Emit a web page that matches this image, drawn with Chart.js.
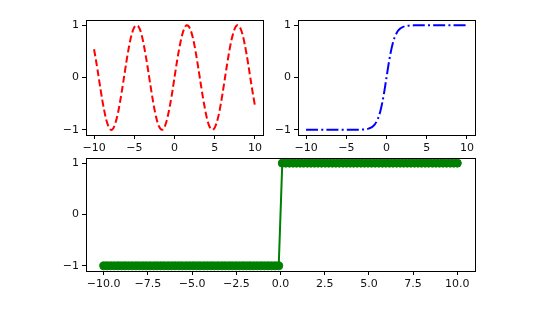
<!DOCTYPE html>
<html>
<head>
<meta charset="utf-8">
<script src="https://cdn.jsdelivr.net/npm/chart.js@4/dist/chart.umd.min.js"></script>
<style>
  html, body { margin: 0; padding: 0; background: #fff; }
  #fig { position: relative; width: 560px; height: 309px; overflow: hidden; }
  #fig canvas { position: absolute; }
</style>
</head>
<body>
<div id="fig">
  <canvas id="sinCanvas" width="280" height="160" style="left:0;top:0"></canvas>
  <canvas id="tanhCanvas" width="310" height="160" style="left:250px;top:0"></canvas>
  <canvas id="signCanvas" width="560" height="169" style="left:0;top:140px"></canvas>
</div>
<script>
// x positions for the top two panels (step 0.25)
const curveX = [
  -10, -9.75, -9.5, -9.25, -9, -8.75, -8.5, -8.25, -8, -7.75, -7.5, -7.25, -7, -6.75, -6.5, -6.25,
  -6, -5.75, -5.5, -5.25, -5, -4.75, -4.5, -4.25, -4, -3.75, -3.5, -3.25, -3, -2.75, -2.5, -2.25,
  -2, -1.75, -1.5, -1.25, -1, -0.75, -0.5, -0.25, 0, 0.25, 0.5, 0.75, 1, 1.25, 1.5, 1.75,
  2, 2.25, 2.5, 2.75, 3, 3.25, 3.5, 3.75, 4, 4.25, 4.5, 4.75, 5, 5.25, 5.5, 5.75,
  6, 6.25, 6.5, 6.75, 7, 7.25, 7.5, 7.75, 8, 8.25, 8.5, 8.75, 9, 9.25, 9.5, 9.75, 10
];
const sinY = [
  0.54, 0.32, 0.08, -0.17, -0.41, -0.62, -0.80, -0.92, -0.99, -1.00, -0.94, -0.82, -0.66, -0.45, -0.22, 0.03,
  0.28, 0.51, 0.71, 0.86, 0.96, 1.00, 0.98, 0.90, 0.76, 0.57, 0.35, 0.11, -0.14, -0.38, -0.60, -0.78,
  -0.91, -0.98, -1.00, -0.95, -0.84, -0.68, -0.48, -0.25, 0, 0.25, 0.48, 0.68, 0.84, 0.95, 1.00, 0.98,
  0.91, 0.78, 0.60, 0.38, 0.14, -0.11, -0.35, -0.57, -0.76, -0.90, -0.98, -1.00, -0.96, -0.86, -0.71, -0.51,
  -0.28, -0.03, 0.22, 0.45, 0.66, 0.82, 0.94, 1.00, 0.99, 0.92, 0.80, 0.62, 0.41, 0.17, -0.08, -0.32, -0.54
];
const tanhY = [
  -1, -1, -1, -1, -1, -1, -1, -1, -1, -1, -1, -1, -1, -1, -1, -1,
  -1, -1, -1, -1, -1, -1, -1, -1, -1, -1, -1, -1, -0.995, -0.992, -0.987, -0.978,
  -0.964, -0.941, -0.905, -0.848, -0.762, -0.635, -0.462, -0.245, 0, 0.245, 0.462, 0.635, 0.762, 0.848, 0.905, 0.941,
  0.964, 0.978, 0.987, 0.992, 0.995, 0.997, 0.998, 0.999, 1, 1, 1, 1, 1, 1, 1, 1,
  1, 1, 1, 1, 1, 1, 1, 1, 1, 1, 1, 1, 1, 1, 1, 1, 1
];

// bottom panel sample points
const signX = [
  -10.00, -9.80, -9.60, -9.39, -9.19, -8.99, -8.79, -8.59, -8.38, -8.18,
  -7.98, -7.78, -7.58, -7.37, -7.17, -6.97, -6.77, -6.57, -6.36, -6.16,
  -5.96, -5.76, -5.56, -5.35, -5.15, -4.95, -4.75, -4.55, -4.34, -4.14,
  -3.94, -3.74, -3.54, -3.33, -3.13, -2.93, -2.73, -2.53, -2.32, -2.12,
  -1.92, -1.72, -1.52, -1.31, -1.11, -0.91, -0.71, -0.51, -0.30, -0.10,
  0.10, 0.30, 0.51, 0.71, 0.91, 1.11, 1.31, 1.52, 1.72, 1.92,
  2.12, 2.32, 2.53, 2.73, 2.93, 3.13, 3.33, 3.54, 3.74, 3.94,
  4.14, 4.34, 4.55, 4.75, 4.95, 5.15, 5.35, 5.56, 5.76, 5.96,
  6.16, 6.36, 6.57, 6.77, 6.97, 7.17, 7.37, 7.58, 7.78, 7.98,
  8.18, 8.38, 8.59, 8.79, 8.99, 9.19, 9.39, 9.60, 9.80, 10.00
];
const signY = [
  -1, -1, -1, -1, -1, -1, -1, -1, -1, -1,
  -1, -1, -1, -1, -1, -1, -1, -1, -1, -1,
  -1, -1, -1, -1, -1, -1, -1, -1, -1, -1,
  -1, -1, -1, -1, -1, -1, -1, -1, -1, -1,
  -1, -1, -1, -1, -1, -1, -1, -1, -1, -1,
  1, 1, 1, 1, 1, 1, 1, 1, 1, 1,
  1, 1, 1, 1, 1, 1, 1, 1, 1, 1,
  1, 1, 1, 1, 1, 1, 1, 1, 1, 1,
  1, 1, 1, 1, 1, 1, 1, 1, 1, 1,
  1, 1, 1, 1, 1, 1, 1, 1, 1, 1
];

// tick values and labels
const topXTicks = [-10, -5, 0, 5, 10];
const topXLabels = ['\u221210', '\u22125', '0', '5', '10'];
const bottomXTicks = [-10, -7.5, -5, -2.5, 0, 2.5, 5, 7.5, 10];
const bottomXLabels = ['\u221210.0', '\u22127.5', '\u22125.0', '\u22122.5', '0.0', '2.5', '5.0', '7.5', '10.0'];
const yTicks = [-1, 0, 1];
const yLabels = ['\u22121', '0', '1'];

Chart.defaults.font.family = '"DejaVu Sans", sans-serif';
Chart.defaults.font.size = 11;
Chart.defaults.color = '#111';

// matplotlib-style frame around the plot area
const framePlugin = {
    id: 'frame',
    afterDatasetsDraw(chart) {
        const a = chart.chartArea;
        const c = chart.ctx;
        c.save();
        c.strokeStyle = '#000';
        c.lineWidth = 1;
        c.strokeRect(Math.round(a.left) + 0.5, Math.round(a.top) + 0.5,
            Math.round(a.right - a.left), Math.round(a.bottom - a.top));
        c.restore();
    }
};

function points(xs, ys) {
    return xs.map((x, i) => ({ x: x, y: ys[i] }));
}

function axis(ticks, labels, min, max, fitSize, isX) {
    return {
        type: 'linear',
        min: min,
        max: max,
        afterBuildTicks: scale => { scale.ticks = ticks.map(v => ({ value: v })); },
        afterFit: scale => {
            if (isX) scale.height = fitSize;
            else scale.width = fitSize;
        },
        grid: { drawOnChartArea: false, drawTicks: true, tickLength: 4, tickColor: '#000', lineWidth: 1 },
        border: { display: false },
        ticks: {
            padding: 3,
            maxRotation: 0,
            autoSkip: false,
            callback: function(value) {
                const i = ticks.indexOf(value);
                return i >= 0 ? labels[i] : '';
            }
        }
    };
}

function makeChart(id, dataset, xTicks, xLabels, yWidth, xHeight, padding) {
    return new Chart(document.getElementById(id).getContext('2d'), {
        type: 'scatter',
        data: { datasets: [dataset] },
        options: {
            responsive: false,
            animation: false,
            events: [],
            layout: { padding: padding },
            plugins: { legend: { display: false }, tooltip: { enabled: false } },
            scales: {
                x: axis(xTicks, xLabels, -11, 11, xHeight, true),
                y: axis(yTicks, yLabels, -1.1, 1.1, yWidth, false)
            }
        },
        plugins: [framePlugin]
    });
}

makeChart('sinCanvas', {
    data: points(curveX, sinY),
    showLine: true,
    borderColor: '#ff0000',
    borderWidth: 2,
    borderDash: [7, 3.2],
    pointRadius: 0,
    tension: 0.3
}, topXTicks, topXLabels, 86, 25, { left: 0, top: 20, right: 17, bottom: 0 });

makeChart('tanhCanvas', {
    data: points(curveX, tanhY),
    showLine: true,
    borderColor: '#0000ff',
    borderWidth: 2,
    borderDash: [12, 3.2, 2, 3.2],
    pointRadius: 0,
    tension: 0.3
}, topXTicks, topXLabels, 48, 25, { left: 0, top: 20, right: 85, bottom: 0 });

makeChart('signCanvas', {
    data: points(signX, signY),
    showLine: true,
    borderColor: '#008000',
    backgroundColor: '#008000',
    borderWidth: 2,
    pointRadius: 4,
    pointBorderWidth: 1,
    pointBorderColor: '#008000',
    pointBackgroundColor: '#008000',
    tension: 0
}, bottomXTicks, bottomXLabels, 86, 38, { left: 0, top: 18, right: 85, bottom: 0 });
</script>
</body>
</html>
